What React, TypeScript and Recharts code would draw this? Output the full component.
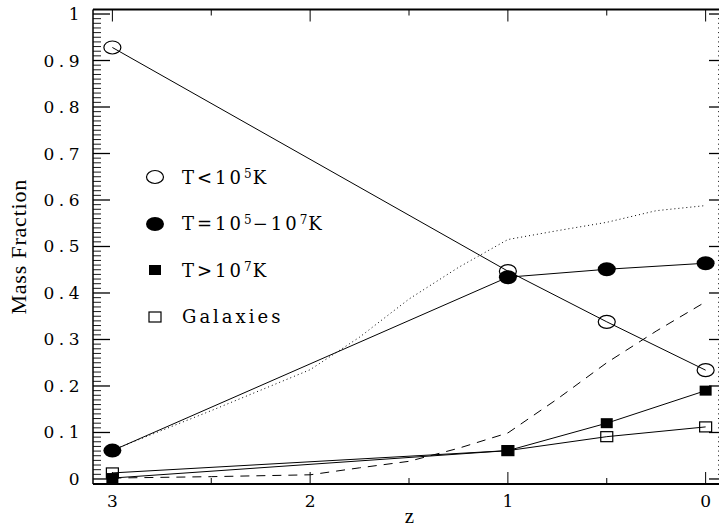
import React from 'react';
import { LineChart, Line, XAxis, YAxis, Legend } from 'recharts';

// redshifts where the simulation outputs were measured
const zMarks = [3, 1, 0.5, 0];
const coolGas = [0.928, 0.447, 0.338, 0.234]; // T < 1e5 K
const warmGas = [0.061, 0.434, 0.451, 0.464]; // T = 1e5 - 1e7 K
const hotGas = [0.002, 0.061, 0.12, 0.19]; // T > 1e7 K
const galaxies = [0.013, 0.061, 0.091, 0.112];

// smooth reference curves (no markers)
const zCurve = [3, 2.5, 2, 1.75, 1.5, 1.25, 1, 0.75, 0.5, 0.25, 0];
const dottedCurve = [0.062, 0.147, 0.235, 0.305, 0.387, 0.455, 0.515, 0.534, 0.552, 0.577, 0.588];
const dashedCurve = [0.002, 0.005, 0.009, 0.024, 0.038, 0.066, 0.099, 0.172, 0.25, 0.318, 0.381];

const xTicks = [3, 2.5, 2, 1.5, 1, 0.5, 0];
const yTicks = Array.from({ length: 101 }, (_, i) => i / 100);

const legendKinds = ['openCircle', 'filledCircle', 'filledSquare', 'openSquare'];
// [text, superscript, text, superscript, ...]
const legendLabels = [
  ['T<10', '5', 'K'],
  ['T=10', '5', '\u221210', '7', 'K'],
  ['T>10', '7', 'K'],
  ['Galaxies'],
];

const toPoints = (xs: number[], ys: number[]) => xs.map((z, i) => ({ z, v: ys[i] }));

const TICK_FONT = '"DejaVu Serif", serif';

function Marker({ kind, cx, cy }: { kind: string; cx: number; cy: number }) {
  if (kind === 'openCircle')
    return <ellipse cx={cx} cy={cy} rx={8.5} ry={6.5} fill="none" stroke="#000" strokeWidth={1.2} />;
  if (kind === 'filledCircle') return <ellipse cx={cx} cy={cy} rx={9} ry={7} fill="#000" />;
  if (kind === 'filledSquare') return <rect x={cx - 6} y={cy - 5} width={12} height={10} fill="#000" />;
  return <rect x={cx - 6} y={cy - 5} width={12} height={10} fill="none" stroke="#000" strokeWidth={1.2} />;
}

const dotOf = (kind: string) => (p: any) => <Marker key={`${kind}-${p.index}`} kind={kind} cx={p.cx} cy={p.cy} />;

const isMajorY = (v: number) => Math.round(v * 100) % 10 === 0;
const isMajorX = (v: number) => Math.round(v * 2) % 2 === 0;

function BottomTick({ x, y, payload }: any) {
  const v = payload.value;
  const major = isMajorX(v);
  return (
    <g>
      <line x1={x} x2={x} y1={y} y2={y - (major ? 12 : 6)} stroke="#000" />
      {major && (
        <text x={x} y={y + 17} textAnchor="middle" dominantBaseline="central" fontFamily={TICK_FONT} fontSize={17} fill="#000">
          {v}
        </text>
      )}
    </g>
  );
}

function TopTick({ x, y, payload }: any) {
  const major = isMajorX(payload.value);
  return <line x1={x} x2={x} y1={y} y2={y + (major ? 12 : 6)} stroke="#000" />;
}

function LeftTick({ x, y, payload }: any) {
  const v = payload.value;
  const major = isMajorY(v);
  const label = v === 0 ? '0' : v === 1 ? '1' : v.toFixed(1);
  return (
    <g>
      <line x1={x} x2={x + (major ? 17 : 8)} y1={y} y2={y} stroke="#000" strokeWidth={major ? 1.3 : 0.9} />
      {major && (
        <text x={x - 9} y={y} textAnchor="end" dominantBaseline="central" fontFamily={TICK_FONT} fontSize={17} letterSpacing={4.5} fill="#000">
          {label}
        </text>
      )}
    </g>
  );
}

function RightTick({ x, y, payload }: any) {
  const major = isMajorY(payload.value);
  return <line x1={x} x2={x - (major ? 17 : 8)} y1={y} y2={y} stroke="#000" strokeWidth={major ? 1.3 : 0.9} />;
}

function LegendBox() {
  return (
    <div style={{ fontFamily: TICK_FONT, fontSize: 18, letterSpacing: 3, color: '#000' }}>
      {legendLabels.map((parts, i) => (
        <div key={i} style={{ display: 'flex', alignItems: 'center', height: 46.5 }}>
          <svg width={20} height={20} style={{ display: 'block' }}>
            <Marker kind={legendKinds[i]} cx={10} cy={10} />
          </svg>
          <span style={{ marginLeft: 17, whiteSpace: 'nowrap' }}>
            {parts.map((t, j) =>
              j % 2 === 1 ? (
                <span key={j} style={{ fontSize: 12, position: 'relative', top: -6, letterSpacing: 1 }}>
                  {t}
                </span>
              ) : (
                <span key={j}>{t}</span>
              ),
            )}
          </span>
        </div>
      ))}
    </div>
  );
}

export default function App() {
  return (
    <div style={{ position: 'absolute', left: 0, top: 0, width: 719, height: 529, overflow: 'hidden', background: '#fff' }}>
      <LineChart width={727} height={529} margin={{ top: 8.5, right: 0, bottom: 0, left: 0 }}>
        <XAxis
          xAxisId="b"
          dataKey="z"
          type="number"
          reversed
          domain={[-0.103, 3.098]}
          allowDataOverflow
          ticks={xTicks}
          interval={0}
          height={45}
          tickSize={0}
          tickMargin={0}
          tick={<BottomTick />}
          axisLine={{ stroke: '#000', strokeWidth: 2 }}
          label={{
            position: 'bottom',
            content: ({ viewBox }: any) => (
              <text x={viewBox.x + viewBox.width / 2} y={516} textAnchor="middle" dominantBaseline="central" fontFamily='"Liberation Serif", serif' fontSize={21} fill="#000">
                z
              </text>
            ),
          }}
        />
        <XAxis
          xAxisId="t"
          orientation="top"
          dataKey="z"
          type="number"
          reversed
          domain={[-0.103, 3.098]}
          allowDataOverflow
          ticks={xTicks}
          interval={0}
          height={1}
          tickSize={0}
          tickMargin={0}
          tick={<TopTick />}
          axisLine={{ stroke: '#000', strokeWidth: 2 }}
        />
        <YAxis
          yAxisId="l"
          type="number"
          domain={[-0.0108, 1.0097]}
          allowDataOverflow
          ticks={yTicks}
          interval={0}
          width={93}
          tickSize={0}
          tickMargin={0}
          tick={<LeftTick />}
          axisLine={{ stroke: '#000', strokeWidth: 1.5 }}
          label={{
            position: 'left',
            content: ({ viewBox }: any) => {
              const cy = viewBox.y + viewBox.height / 2;
              return (
                <text x={18} y={cy} transform={`rotate(-90 18 ${cy})`} textAnchor="middle" dominantBaseline="central" fontFamily='"Liberation Serif", serif' fontSize={22} letterSpacing={0.8} fill="#000">
                  Mass Fraction
                </text>
              );
            },
          }}
        />
        <YAxis
          yAxisId="r"
          orientation="right"
          type="number"
          domain={[-0.0108, 1.0097]}
          allowDataOverflow
          ticks={yTicks}
          interval={0}
          width={1}
          tickSize={0}
          tickMargin={0}
          tick={<RightTick />}
          axisLine={{ stroke: '#000', strokeWidth: 1.5 }}
        />
        <Legend
          layout="vertical"
          align="center"
          verticalAlign="middle"
          wrapperStyle={{ position: 'absolute', left: 145, top: 153.75, width: 300 }}
          content={() => <LegendBox />}
        />
        <Line xAxisId="b" yAxisId="l" data={toPoints(zCurve, dashedCurve)} dataKey="v" type="linear" stroke="#000" strokeWidth={1} strokeDasharray="9 7" dot={false} isAnimationActive={false} />
        <Line xAxisId="b" yAxisId="l" data={toPoints(zCurve, dottedCurve)} dataKey="v" type="linear" stroke="#000" strokeWidth={1} strokeDasharray="1 3" dot={false} isAnimationActive={false} />
        <Line xAxisId="b" yAxisId="l" data={toPoints(zMarks, coolGas)} dataKey="v" type="linear" stroke="#000" strokeWidth={1} dot={dotOf('openCircle')} isAnimationActive={false} />
        <Line xAxisId="b" yAxisId="l" data={toPoints(zMarks, warmGas)} dataKey="v" type="linear" stroke="#000" strokeWidth={1} dot={dotOf('filledCircle')} isAnimationActive={false} />
        <Line xAxisId="b" yAxisId="l" data={toPoints(zMarks, galaxies)} dataKey="v" type="linear" stroke="#000" strokeWidth={1} dot={dotOf('openSquare')} isAnimationActive={false} />
        <Line xAxisId="b" yAxisId="l" data={toPoints(zMarks, hotGas)} dataKey="v" type="linear" stroke="#000" strokeWidth={1} dot={dotOf('filledSquare')} isAnimationActive={false} />
      </LineChart>
    </div>
  );
}
